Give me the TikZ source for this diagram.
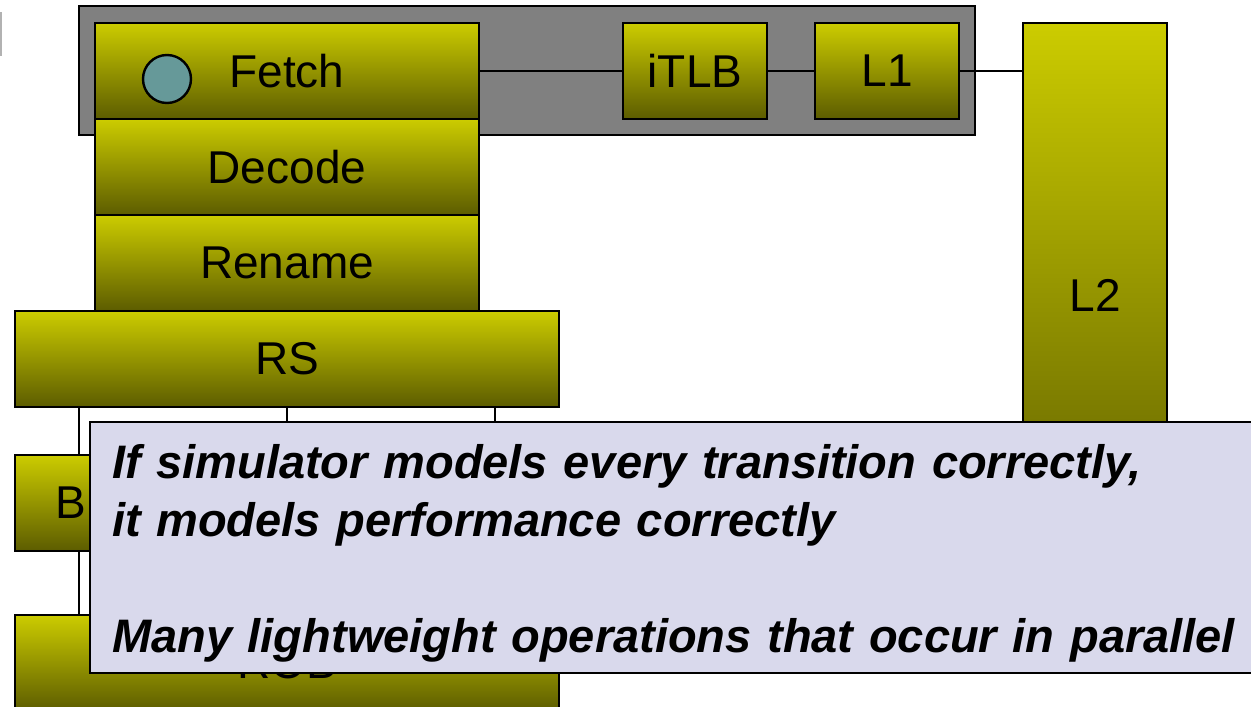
\documentclass[tikz,border=0pt]{standalone}
\usepackage{fontspec}
\setmainfont{Liberation Sans}
\usetikzlibrary{positioning,calc}

\definecolor{unittop}{RGB}{204,204,0}
\definecolor{unitbot}{RGB}{92,92,0}
\definecolor{frontgray}{RGB}{128,128,128}
\definecolor{pcteal}{RGB}{102,153,153}
\definecolor{notefill}{RGB}{217,217,236}

\begin{document}
\begin{tikzpicture}[
        x=1pt, y=-1pt,
        unit/.style={rectangle, draw=black, line width=2.4pt, top color=unittop, bottom color=unitbot,
            minimum width=384pt, minimum height=96pt, inner sep=0pt, outer sep=0pt,
            font=\fontsize{46}{50}\selectfont},
        wire/.style={draw=black, line width=2.4pt},
        note/.style={rectangle, draw=black, line width=2.4pt, fill=notefill, text width=1150pt,
            minimum height=251pt, inner xsep=22pt, inner ysep=0pt, outer sep=0pt, align=left,
            font=\fontsize{47}{58}\selectfont\bfseries\itshape}
    ]
    \useasboundingbox (0,0) rectangle (1251,707);
    \clip (0,0) rectangle (1251,707);
    \fill[gray!60] (0,12) rectangle (1.5,56);

    % front end
    \node[rectangle, draw=black, line width=2.4pt, fill=frontgray, minimum width=896pt, minimum height=129pt,
        outer sep=0pt, anchor=north west] (frontend) at (79,6) {};
    \node[unit, anchor=north west] (fetch) at (95,23) {Fetch};
    \node[circle, draw=black, line width=2.4pt, fill=pcteal, minimum size=48pt, inner sep=0pt]
        (pc) at ($(fetch.west)+(72,8)$) {};
    \node[unit, below=0pt of fetch] (decode) {Decode};
    \node[unit, below=0pt of decode] (rename) {Rename};
    \node[unit, minimum width=544pt, below=0pt of rename] (rs) {RS};

    % memory side
    \node[unit, minimum width=144pt, anchor=north west] (itlb) at (623,23) {iTLB};
    \node[unit, minimum width=144pt, right=48pt of itlb] (l1) {L1};
    \node[unit, minimum width=144pt, minimum height=544pt, anchor=north west] (l2) at (1023,23) {L2};

    % back end
    \node[unit, minimum width=128pt, anchor=north west] (b) at (15,455) {B\kern16pt};
    \node[unit, minimum width=544pt, anchor=north west] (rob) at (15,615) {ROB};
    \coordinate (rstap) at ($(rs.south)+(208,0)$);

    \draw[wire] (fetch) -- (itlb);
    \draw[wire] (itlb) -- (l1);
    \draw[wire] (l1.east) -- (l1.east -| l2.west);
    \draw[wire] (rs.south -| b.north) -- (b.north);
    \draw[wire] (b.south) -- (b.south |- rob.north);
    \draw[wire] (rs.south) -- (rob.north);
    \draw[wire] (rstap) -- (rstap |- rob.north);

    % overlay
    \node[note, anchor=north west] (claim) at (90,422)
        {\rule{0pt}{46pt}If simulator models every transition correctly,\\
         it models performance correctly\\[58pt]
         Many lightweight operations that occur in parallel};
\end{tikzpicture}
\end{document}
